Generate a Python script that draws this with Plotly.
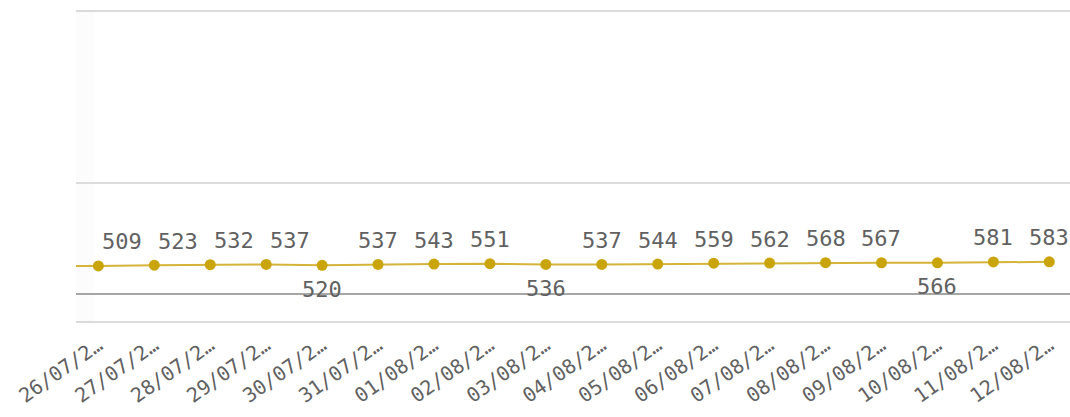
import plotly.graph_objects as go

# categories (first one lies just off the left edge of the visible window)
dates = ["25/07/2…", "26/07/2…", "27/07/2…", "28/07/2…", "29/07/2…", "30/07/2…",
         "31/07/2…", "01/08/2…", "02/08/2…", "03/08/2…", "04/08/2…",
         "05/08/2…", "06/08/2…", "07/08/2…", "08/08/2…", "09/08/2…",
         "10/08/2…", "11/08/2…", "12/08/2…"]
values = [509, 509, 523, 532, 537, 520, 537, 543, 551, 536, 537,
          544, 559, 562, 568, 567, 566, 581, 583]
y_gridlines = [2000]

# styling only: horizontal nudge (px) of each data label, as in the reference
label_dx = [0, 24, 24, 24, 24] + [0] * 14

gold = "#c9a40a"
txt = "#616161"
font = "DejaVu Sans Mono"

fig = go.Figure()
fig.add_trace(go.Scatter(
    x=dates, y=values,
    mode="lines+markers",
    line=dict(color="#d5b43a", width=2),
    marker=dict(color=gold, size=11),
    cliponaxis=True,
    hoverinfo="x+y",
))

# data labels: below for local minima, above otherwise
for i, v in enumerate(values):
    if i == 0:
        continue
    prev_v = values[i - 1]
    next_v = values[i + 1] if i < len(values) - 1 else v + 1
    below = v < prev_v and v < next_v
    fig.add_annotation(
        x=dates[i], y=v, text=str(v), showarrow=False,
        yshift=-24 if below else 24,
        xshift=label_dx[i],
        font=dict(family=font, size=22, color=txt),
        xanchor="center", yanchor="middle",
    )

# chart frame lines (top / bottom of plot area) and faint left scroll shadow
for yy in (0, 1):
    fig.add_shape(type="line", xref="paper", yref="paper", x0=0, x1=1, y0=yy, y1=yy,
                  line=dict(color="#dcdcdc", width=2), layer="below")
fig.add_shape(type="rect", xref="paper", yref="paper", x0=0, x1=0.018, y0=0, y1=1,
              fillcolor="rgba(0,0,0,0.012)", line=dict(width=0), layer="below")

fig.update_layout(
    width=1070, height=417,
    margin=dict(l=76, r=0, t=11, b=95),
    paper_bgcolor="white", plot_bgcolor="white",
    showlegend=False,
    xaxis=dict(
        type="category",
        range=[0.6, 18.37],
        automargin=False,
        showgrid=False, zeroline=False, showline=False,
        ticks="",
        tickangle=-35,
        ticklabelstandoff=7,
        tickfont=dict(family=font, size=20, color=txt),
    ),
    yaxis=dict(
        range=[-500, 5100],
        automargin=False,
        tickvals=y_gridlines,
        showticklabels=False,
        showgrid=True, gridcolor="#dcdcdc", gridwidth=2,
        zeroline=True, zerolinecolor="#a6a6a6", zerolinewidth=2,
        showline=False, ticks="",
    ),
)

fig.write_html(
    "out.html",
    config={"displayModeBar": False},
    post_script="document.body.style.margin='0';document.body.style.overflow='hidden';",
)
